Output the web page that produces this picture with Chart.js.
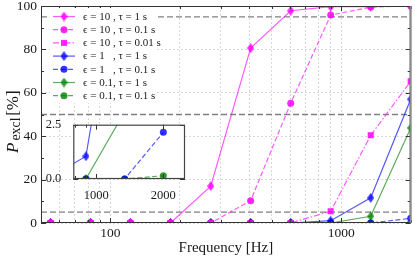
<!DOCTYPE html>
<html>
<head>
<meta charset="utf-8">
<script src="https://cdn.jsdelivr.net/npm/chart.js@4.4.1/dist/chart.umd.min.js"></script>
<style>
  html, body { margin: 0; padding: 0; background: #fff; }
  #wrap { position: relative; width: 415px; height: 260px; overflow: hidden; }
  canvas { position: absolute; }
  #main { left: 0; top: 0; }
  #inset { left: 40px; top: 112px; }
</style>
</head>
<body>
<div id="wrap">
  <canvas id="main" width="415" height="260"></canvas>
  <canvas id="inset" width="150" height="90"></canvas>
</div>
<script>
// frequencies of the runs [Hz]
const frequencies = [55, 82, 122, 182, 272, 405, 604, 900, 1342, 2000]

// P_excl [%] for each (epsilon, tau) pair
const eps10Tau1 = [0, 0, 0, 0, 17, 80.6, 97.8, 99.7, 99.7, 100]
const eps10Tau01 = [0, 0, 0, 0, 0, 10.3, 55.2, 95.8, 99.5, 100]
const eps10Tau001 = [0, 0, 0, 0, 0, 0, 0, 5.4, 40.4, 65.3]
const eps1Tau1 = [0, 0, 0, 0, 0, 0, 0, 1.05, 11.6, 57]
const eps1Tau01 = [0, 0, 0, 0, 0, 0, 0, 0, 0, 2.15]
const eps01Tau1 = [0, 0, 0, 0, 0, 0, 0, 0, 3.1, 43.8]
const eps01Tau01 = [0, 0, 0, 0, 0, 0, 0, 0, 0, 0.15]

// dashed reference levels [%]
const thresholds = [5, 50, 95]

const xTickLabels = [100, 1000]
const yTicks = [0, 20, 40, 60, 80, 100]
const yMinorTicks = [10, 30, 50, 70, 90]
const insetXTickLabels = [1000, 2000]
const insetYTicks = [0, 2.5]

const X_MIN = 50, X_MAX = 2000
const INSET_X_MIN = 790, INSET_X_MAX = 2500

const FONT = "'Liberation Serif', 'DejaVu Serif', serif"
const TEXT = '#1a1a1a'
const GRID = '#cfcfcf'

const MAGENTA = 'rgba(255, 0, 255, 0.65)'
const MAGENTA_M = 'rgba(255, 0, 255, 0.85)'
const BLUE = 'rgba(0, 0, 255, 0.65)'
const BLUE_M = 'rgba(0, 0, 255, 0.8)'
const GREEN = 'rgba(0, 128, 0, 0.65)'
const GREEN_M = 'rgba(0, 128, 0, 0.8)'

const DASHED = [5, 2.5]
const DASHDOT = [6, 2, 1.5, 2]

const series = [
  { label: 'ϵ = 10 , τ = 1 s', values: eps10Tau1, line: MAGENTA, fill: MAGENTA_M, dash: [], marker: 'diamond' },
  { label: 'ϵ = 10 , τ = 0.1 s', values: eps10Tau01, line: MAGENTA, fill: MAGENTA_M, dash: DASHED, marker: 'circle' },
  { label: 'ϵ = 10 , τ = 0.01 s', values: eps10Tau001, line: MAGENTA, fill: MAGENTA_M, dash: DASHDOT, marker: 'rect' },
  { label: 'ϵ = 1   , τ = 1 s', values: eps1Tau1, line: BLUE, fill: BLUE_M, dash: [], marker: 'diamond' },
  { label: 'ϵ = 1   , τ = 0.1 s', values: eps1Tau01, line: BLUE, fill: BLUE_M, dash: DASHED, marker: 'circle' },
  { label: 'ϵ = 0.1, τ = 1 s', values: eps01Tau1, line: GREEN, fill: GREEN_M, dash: [], marker: 'diamond' },
  { label: 'ϵ = 0.1, τ = 0.1 s', values: eps01Tau01, line: GREEN, fill: GREEN_M, dash: DASHED, marker: 'circle' }
]

// matplotlib style thin diamond marker
function thinDiamond(color) {
  const c = document.createElement('canvas')
  c.width = 7
  c.height = 10
  const g = c.getContext('2d')
  g.fillStyle = color
  g.beginPath()
  g.moveTo(3.5, 0)
  g.lineTo(7, 5)
  g.lineTo(3.5, 10)
  g.lineTo(0, 5)
  g.closePath()
  g.fill()
  return c
}

series.forEach(s => {
  s.pointStyle = s.marker === 'diamond' ? thinDiamond(s.fill) : s.marker
  s.radius = s.marker === 'rect' ? 4.3 : 3.5
})

function seriesDatasets() {
  return series.map(s => ({
    label: s.label,
    data: frequencies.map((f, i) => ({ x: f, y: s.values[i] })),
    borderColor: s.line,
    backgroundColor: s.fill,
    borderWidth: 1.2,
    borderDash: s.dash,
    pointStyle: s.pointStyle,
    pointRadius: s.radius,
    pointBackgroundColor: s.fill,
    pointBorderWidth: 0,
    tension: 0,
    clip: 0,
    order: 0
  }))
}

const thresholdDatasets = thresholds.map(t => ({
  data: [{ x: X_MIN, y: t }, { x: X_MAX, y: t }],
  borderColor: '#808080',
  borderWidth: 1.3,
  borderDash: [6, 3],
  pointRadius: 0,
  clip: 0,
  order: 1
}))

// keep 1..9 x 10^n ticks only (drop 150, 1500 and the odd min/max)
function keepDecadeSteps(scale) {
  scale.ticks = scale.ticks.filter(t => {
    const p = Math.pow(10, Math.floor(Math.log10(t.value)))
    const r = t.value / p
    return Math.abs(r - Math.round(r)) < 1e-6
  })
}

function frameAndTicks(cfg) {
  return {
    id: 'frameAndTicks',
    afterDatasetsDraw(chart) {
      const { ctx, chartArea: a } = chart
      const { x, y } = chart.scales
      ctx.save()
      ctx.setLineDash([])
      ctx.strokeStyle = cfg.tickColor
      ctx.lineWidth = 1
      ctx.beginPath()
      x.ticks.forEach(t => {
        const px = Math.round(x.getPixelForValue(t.value)) + 0.5
        const len = cfg.xMajor.includes(t.value) ? 5 : 3
        ctx.moveTo(px, a.bottom)
        ctx.lineTo(px, a.bottom - len)
        ctx.moveTo(px, a.top)
        ctx.lineTo(px, a.top + len)
      })
      const yMark = (v, len) => {
        const py = Math.round(y.getPixelForValue(v)) + 0.5
        ctx.moveTo(a.left, py)
        ctx.lineTo(a.left + len, py)
        ctx.moveTo(a.right, py)
        ctx.lineTo(a.right - len, py)
      }
      cfg.yMajor.forEach(v => yMark(v, 5))
      cfg.yMinor.forEach(v => yMark(v, 3))
      ctx.stroke()

      ctx.strokeStyle = cfg.frame
      ctx.lineWidth = cfg.frameWidth
      ctx.strokeRect(a.left + 0.5, a.top + 0.5, a.right - a.left - 1, a.bottom - a.top - 1)
      if (cfg.rightEdge) {
        ctx.strokeStyle = cfg.rightEdge
        ctx.lineWidth = 2
        ctx.beginPath()
        ctx.moveTo(a.right, a.top)
        ctx.lineTo(a.right, a.bottom)
        ctx.stroke()
      }
      ctx.restore()
    }
  }
}

const legendPlugin = {
  id: 'seriesLegend',
  afterDraw(chart) {
    const { ctx, chartArea: a } = chart
    const left = a.left + 9
    const top = a.top + 2
    ctx.save()
    ctx.fillStyle = '#fff'
    ctx.fillRect(left, top, 106, 95)
    series.forEach((s, i) => {
      const cy = top + 8.5 + i * 13.2
      ctx.strokeStyle = s.line
      ctx.lineWidth = 1.2
      ctx.setLineDash(s.dash)
      ctx.beginPath()
      ctx.moveTo(left + 3, cy)
      ctx.lineTo(left + 25, cy)
      ctx.stroke()
      ctx.setLineDash([])
      const mx = left + 14
      ctx.fillStyle = s.fill
      if (s.marker === 'diamond') {
        ctx.drawImage(s.pointStyle, mx - 3.5, cy - 5)
      } else if (s.marker === 'rect') {
        const h = s.radius * Math.SQRT1_2
        ctx.fillRect(mx - h, cy - h, 2 * h, 2 * h)
      } else {
        ctx.beginPath()
        ctx.arc(mx, cy, s.radius, 0, Math.PI * 2)
        ctx.fill()
      }
      ctx.fillStyle = TEXT
      ctx.font = `11px ${FONT}`
      ctx.textBaseline = 'middle'
      ctx.fillText(s.label, left + 33, cy + 0.5)
    })
    ctx.restore()
  }
}

const yTitlePlugin = {
  id: 'yTitle',
  afterDraw(chart) {
    const { ctx, chartArea: a } = chart
    ctx.save()
    ctx.translate(18, (a.top + a.bottom) / 2 + 5.5)
    ctx.rotate(-Math.PI / 2)
    ctx.fillStyle = TEXT
    ctx.textBaseline = 'alphabetic'
    let pos = -33
    ctx.font = `italic 17px ${FONT}`
    ctx.fillText('P', pos, 0)
    pos += ctx.measureText('P').width + 2
    ctx.font = `14px ${FONT}`
    ctx.fillText('excl', pos, 1.5)
    pos += ctx.measureText('excl').width + 1.5
    ctx.font = `17px ${FONT}`
    ctx.fillText('[%]', pos, 0)
    ctx.restore()
  }
}

const insetBackground = {
  id: 'insetBackground',
  beforeDraw(chart) {
    const { ctx, chartArea: a } = chart
    ctx.save()
    ctx.fillStyle = '#fff'
    ctx.fillRect(a.left, a.top, a.right - a.left, a.bottom - a.top)
    ctx.restore()
  }
}

new Chart(document.getElementById('main'), {
  type: 'line',
  data: { datasets: [...seriesDatasets(), ...thresholdDatasets] },
  options: {
    responsive: false,
    animation: false,
    devicePixelRatio: 1,
    layout: { padding: { left: 0, right: 4, top: 6, bottom: 0 } },
    plugins: { legend: { display: false }, tooltip: { enabled: false } },
    scales: {
      x: {
        type: 'logarithmic',
        min: X_MIN,
        max: X_MAX,
        afterBuildTicks: keepDecadeSteps,
        afterFit: s => { s.height = 37; s.paddingLeft = 0; s.paddingRight = 0 },
        grid: { color: GRID, lineWidth: 0.8, drawTicks: false },
        border: { display: false, dash: [2, 2] },
        ticks: {
          autoSkip: false,
          maxRotation: 0,
          minRotation: 0,
          padding: 2,
          color: TEXT,
          font: { family: FONT, size: 13.5 },
          callback: v => xTickLabels.includes(v) ? String(v) : ''
        },
        title: {
          display: true,
          text: 'Frequency [Hz]',
          color: TEXT,
          font: { family: FONT, size: 15 },
          padding: { top: 0, bottom: 3 }
        }
      },
      y: {
        min: 0,
        max: 100,
        afterBuildTicks: s => { s.ticks = yTicks.map(v => ({ value: v })) },
        afterFit: s => { s.width = 41; s.paddingTop = 0; s.paddingBottom = 0 },
        grid: { color: GRID, lineWidth: 0.8, drawTicks: false },
        border: { display: false, dash: [2, 2] },
        ticks: {
          padding: 4,
          color: TEXT,
          font: { family: FONT, size: 13.5 },
          callback: v => String(v)
        }
      }
    }
  },
  plugins: [
    frameAndTicks({ tickColor: '#333', frame: '#333', frameWidth: 1, rightEdge: '#8a8a8a', xMajor: xTickLabels, yMajor: yTicks, yMinor: yMinorTicks }),
    legendPlugin,
    yTitlePlugin
  ]
})

new Chart(document.getElementById('inset'), {
  type: 'line',
  data: { datasets: seriesDatasets() },
  options: {
    responsive: false,
    animation: false,
    devicePixelRatio: 1,
    layout: { padding: { left: 0, right: 5, top: 12.7, bottom: 0 } },
    plugins: { legend: { display: false }, tooltip: { enabled: false } },
    scales: {
      x: {
        type: 'logarithmic',
        min: INSET_X_MIN,
        max: INSET_X_MAX,
        afterBuildTicks: keepDecadeSteps,
        afterFit: s => { s.height = 23; s.paddingLeft = 0; s.paddingRight = 0 },
        grid: { display: false },
        border: { display: false },
        ticks: {
          autoSkip: false,
          maxRotation: 0,
          minRotation: 0,
          padding: 1.5,
          color: TEXT,
          font: { family: FONT, size: 12.5 },
          callback: v => insetXTickLabels.includes(v) ? String(v) : ''
        }
      },
      y: {
        min: 0,
        max: 2.5,
        afterBuildTicks: s => { s.ticks = insetYTicks.map(v => ({ value: v })) },
        afterFit: s => { s.width = 33.3; s.paddingTop = 0; s.paddingBottom = 0 },
        grid: { display: false },
        border: { display: false },
        ticks: {
          padding: 4,
          color: TEXT,
          font: { family: FONT, size: 12.5 },
          callback: v => v.toFixed(1)
        }
      }
    }
  },
  plugins: [
    insetBackground,
    frameAndTicks({ tickColor: '#333', frame: '#444', frameWidth: 1.2, rightEdge: null, xMajor: insetXTickLabels, yMajor: insetYTicks, yMinor: [] })
  ]
})
</script>
</body>
</html>
